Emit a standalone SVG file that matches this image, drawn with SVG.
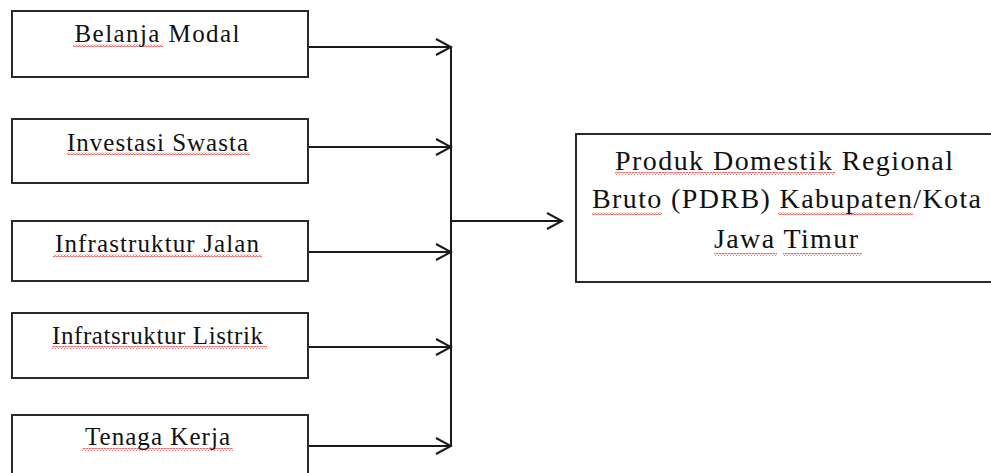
<svg xmlns="http://www.w3.org/2000/svg" width="991" height="473" viewBox="0 0 991 473">
  <style>
    .box { fill: #ffffff; stroke: #2a2a2a; stroke-width: 2; }
    .lbl { font-family: "Liberation Serif", "Times New Roman", serif; fill: #111111; text-anchor: middle; }
    .small { font-size: 25px; }
    .big { font-size: 28px; }
    .wire { fill: none; stroke: #1a1a1a; stroke-width: 2; }
    .squig { fill: url(#wave); }
  </style>
  <defs>
    <marker id="chev" markerUnits="userSpaceOnUse" viewBox="-17 -10 19 20" markerWidth="19" markerHeight="20" refX="0" refY="0" orient="auto">
      <path d="M-15,-8 L0,0 L-15,8" fill="none" stroke="#1a1a1a" stroke-width="2"/>
    </marker>
    <pattern id="wave" patternUnits="userSpaceOnUse" width="3" height="3">
      <path d="M0,2.5 L1.5,0.5 L3,2.5" fill="none" stroke="#e03030" stroke-width="0.9"/>
    </pattern>
  </defs>

  <!-- connectors -->
  <g id="connectors">
    <path class="wire" d="M308,47 H451" marker-end="url(#chev)"/>
    <path class="wire" d="M308,147 H451" marker-end="url(#chev)"/>
    <path class="wire" d="M308,252 H451" marker-end="url(#chev)"/>
    <path class="wire" d="M308,347 H451" marker-end="url(#chev)"/>
    <path class="wire" d="M308,446 H451" marker-end="url(#chev)"/>
    <path class="wire" d="M451,47 V446"/>
    <path class="wire" d="M451,221 H562" marker-end="url(#chev)"/>
  </g>

  <g id="belanja-modal">
    <rect class="box" x="12" y="11" width="296" height="66"/>
    <rect class="squig" x="73" y="44" width="90" height="3"/>
    <text class="lbl small" x="157" y="42" textLength="165" lengthAdjust="spacing">Belanja Modal</text>
  </g>

  <g id="investasi-swasta">
    <rect class="box" x="12" y="119" width="296" height="64"/>
    <rect class="squig" x="67" y="152" width="183" height="3"/>
    <text class="lbl small" x="157.5" y="151" textLength="181" lengthAdjust="spacing">Investasi Swasta</text>
  </g>

  <g id="infrastruktur-jalan">
    <rect class="box" x="12" y="221" width="296" height="60"/>
    <rect class="squig" x="53" y="254" width="209" height="3"/>
    <text class="lbl small" x="157" y="252" textLength="204" lengthAdjust="spacing">Infrastruktur Jalan</text>
  </g>

  <g id="infrastruktur-listrik">
    <rect class="box" x="12" y="313" width="296" height="65"/>
    <rect class="squig" x="52" y="346" width="215" height="3"/>
    <text class="lbl small" x="157.5" y="344" textLength="211" lengthAdjust="spacing">Infratsruktur Listrik</text>
  </g>

  <g id="tenaga-kerja">
    <rect class="box" x="12" y="415" width="296" height="72"/>
    <rect class="squig" x="82" y="448" width="151" height="3"/>
    <text class="lbl small" x="157.5" y="445" textLength="145" lengthAdjust="spacing">Tenaga Kerja</text>
  </g>

  <g id="pdrb">
    <rect class="box" x="576" y="134" width="430" height="148"/>
    <rect class="squig" x="615" y="172" width="220" height="3"/>
    <rect class="squig" x="592" y="212" width="70" height="3"/>
    <rect class="squig" x="778" y="212" width="135" height="3"/>
    <rect class="squig" x="714" y="253" width="63" height="3"/>
    <rect class="squig" x="783" y="253" width="79" height="3"/>
    <text class="lbl big" x="784" y="170" textLength="338" lengthAdjust="spacing">Produk Domestik Regional</text>
    <text class="lbl big" x="786.5" y="208" textLength="389" lengthAdjust="spacing">Bruto (PDRB) Kabupaten/Kota</text>
    <text class="lbl big" x="786" y="248" textLength="144" lengthAdjust="spacing">Jawa Timur</text>
  </g>
</svg>
